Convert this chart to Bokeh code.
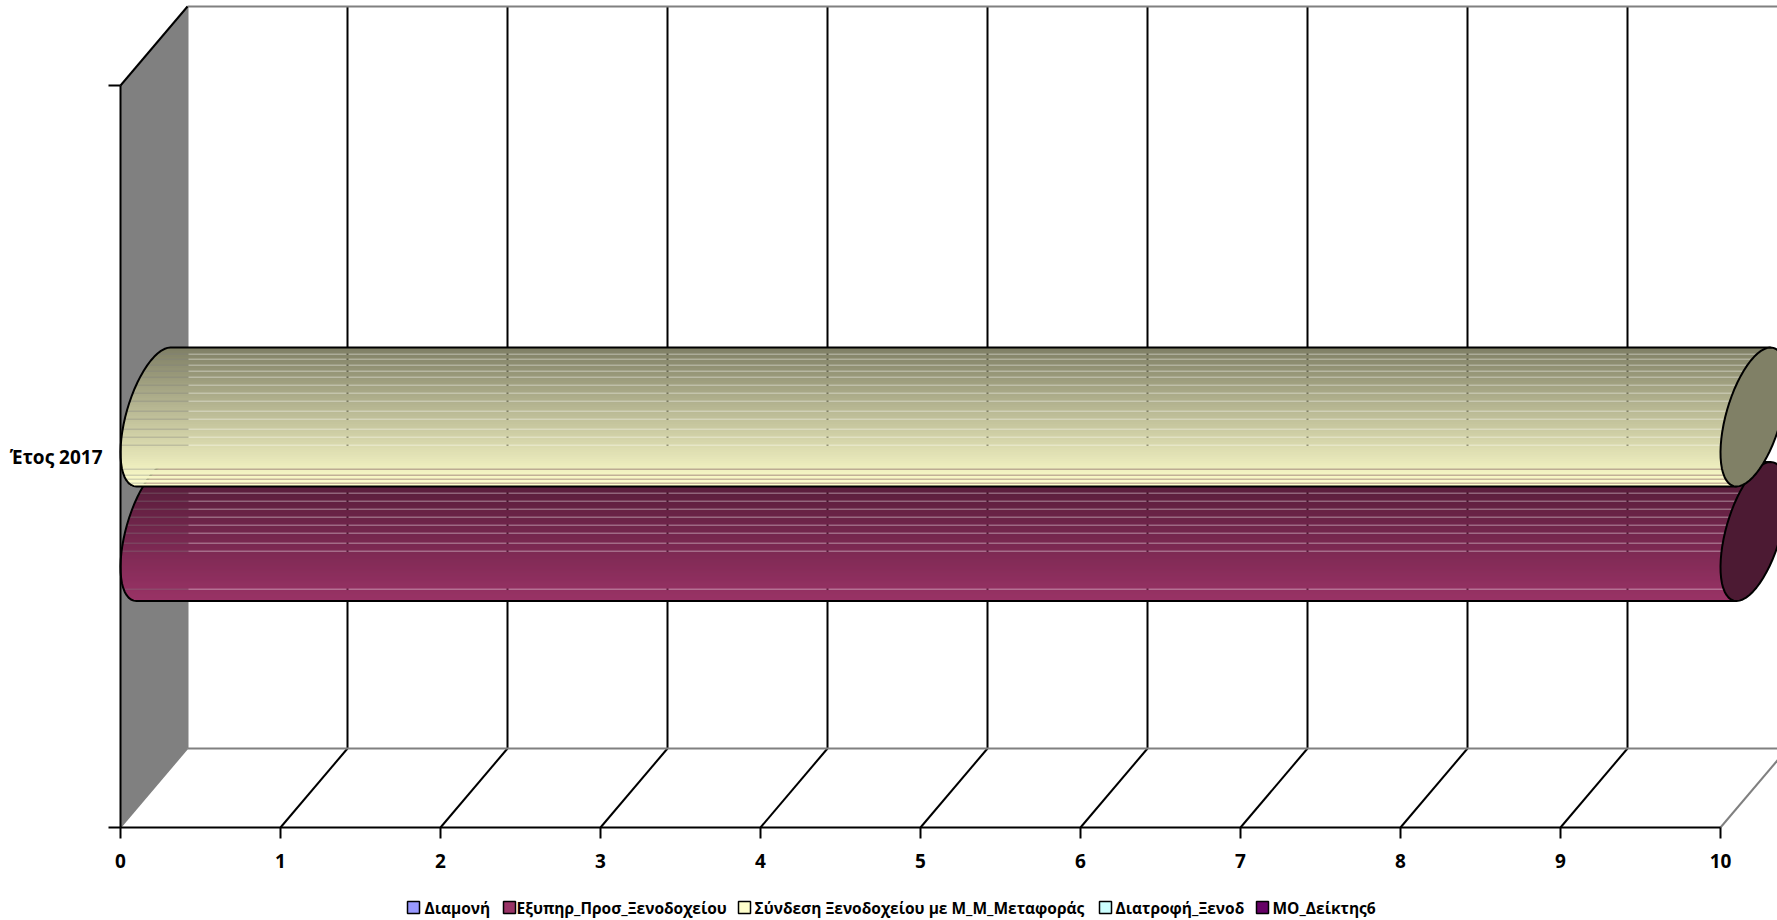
import math
from bokeh.plotting import figure
from bokeh.embed import file_html
from bokeh.resources import INLINE
from bokeh.models import Range1d, FixedTicker, LinearAxis, Label, BoxAnnotation

categories = ["Έτος 2017"]
series_names = ["Διαμονή", "Εξυπηρ_Προσ_Ξενοδοχείου", "Σύνδεση Ξενοδοχείου με Μ_Μ_Μεταφοράς", "Διατροφή_Ξενοδ", "ΜΟ_Δείκτης6"]
series_values = [0, 10, 10, 0, 0]
series_colors = ["#9999FF", "#993366", "#FFFFCC", "#CCFFFF", "#660066"]
x_ticks = [0, 1, 2, 3, 4, 5, 6, 7, 8, 9, 10]

W, H = 1777, 920
FONT = "Open Sans"
X0, PXU = 120, 160.0          # pixel of value 0, pixels per unit
Y0, PYU = 827, 742.0          # pixel of category-axis bottom, pixels per axis height
DX, DY = 67 / PXU, 79 / PYU   # 3-D depth


def yd(row):
    return (Y0 - row) / PYU


# The frame fills the whole figure: annotations and fixed axes are clipped to it.
p = figure(width=W, height=H, output_backend="svg", toolbar_location=None,
           x_range=Range1d(-X0 / PXU, (W - X0) / PXU),
           y_range=Range1d(yd(H), yd(0)),
           min_border_left=0, min_border_right=0, min_border_top=0, min_border_bottom=0,
           x_axis_location=None, y_axis_location=None,
           background_fill_color="white", border_fill_color="white",
           outline_line_color=None)
p.grid.visible = False

# walls
GREY = "#808080"
p.patch([0, DX, DX, 0], [0, DY, 1 + DY, 1], fill_color=GREY, line_color=None)
for v in x_ticks[1:-1]:
    p.line([v + DX, v + DX], [DY, 1 + DY], line_color="black", line_width=2)
    p.line([v, v + DX], [0, DY], line_color="black", line_width=2)
xmax = x_ticks[-1]
p.line([DX, xmax + DX], [DY, DY], line_color=GREY, line_width=2)
p.line([DX, xmax + DX], [1 + DY, 1 + DY], line_color=GREY, line_width=2)
p.line([DX, DX], [DY, 1 + DY], line_color=GREY, line_width=2)
p.line([0, DX], [0, DY], line_color=GREY, line_width=1.5)
p.line([0, DX], [1, 1 + DY], line_color="black", line_width=2)
p.line([xmax, xmax + DX], [0, DY], line_color=GREY, line_width=2)

# cylinders
A, B, PHI = 33.0, 69.5, math.radians(-31)
SKEW = A * math.sin(-PHI)
geom = {1: (531.0, [492, 500, 508, 516, 524, 532, 542, 550, 588]),
        2: (416.5, [353, 358, 364, 370, 376, 384, 392, 400, 410, 418, 428, 436, 444, 468, 474, 478, 482])}


def ellipse_left(dy):
    s = max(-1.0, min(1.0, dy / B))
    t1 = math.asin(s)
    t2 = math.pi - t1
    return min(A * math.cos(t1 + PHI), A * math.cos(t2 + PHI))


def shade(col, f):
    r, g, b = int(col[1:3], 16), int(col[3:5], 16), int(col[5:7], 16)
    return "#%02x%02x%02x" % (round(r * f), round(g * f), round(b * f))


for i in (1, 2):
    v = series_values[i]
    col = series_colors[i]
    cy, gaps = geom[i]
    rows = list(range(int(cy - B), int(cy + B)))
    solid = dict(left=[], right=[], top=[], bottom=[], color=[])
    gap = dict(left=[], right=[], top=[], bottom=[], color=[])
    for r in rows:
        dy = (cy - (r + 0.5))
        d = gap if r in gaps else solid
        d["left"].append((A + ellipse_left(dy)) / PXU)
        d["right"].append(v + (A + SKEW * dy / B) / PXU)
        d["top"].append(yd(r))
        # overlap into the next row so that no seam is left between solid rows
        d["bottom"].append(yd(r + 1) if (r + 1 in gaps or r == rows[-1] or r in gaps) else yd(r + 2))
        d["color"].append(shade(col, 0.5 + 0.5 * (r - rows[0]) / (len(rows) - 1)))
    p.quad(left=solid["left"], right=solid["right"], top=solid["top"], bottom=solid["bottom"],
           fill_color=solid["color"], line_color=None)
    p.quad(left=gap["left"], right=gap["right"], top=gap["top"], bottom=gap["bottom"],
           fill_color=gap["color"], fill_alpha=0.72, line_color=None)
    # left silhouette + long edges
    ts = [math.radians(a) for a in range(90, 271, 6)]
    ox = [(A + A * math.cos(t + PHI)) / PXU for t in ts]
    oy = [yd(cy - B * math.sin(t)) for t in ts]
    p.line([v + (A + SKEW) / PXU] + ox + [v + (A - SKEW) / PXU], [yd(cy - B)] + oy + [yd(cy + B)],
           line_color="black", line_width=2)
    # end cap
    ts = [math.radians(a) for a in range(0, 360, 6)]
    p.patch([v + (A + A * math.cos(t + PHI)) / PXU for t in ts],
            [yd(cy - B * math.sin(t)) for t in ts],
            fill_color=shade(col, 0.5), line_color="black", line_width=2)

# axes
xa = LinearAxis(ticker=FixedTicker(ticks=x_ticks), bounds=(0, xmax), fixed_location=0)
xa.axis_line_width = 2
xa.axis_line_color = "black"
xa.major_tick_line_width = 2
xa.major_tick_out = 11
xa.major_tick_in = 0
xa.minor_tick_line_color = None
xa.major_label_text_font = FONT
xa.major_label_text_font_style = "bold"
xa.major_label_text_font_size = "19px"
xa.major_label_text_color = "black"
xa.major_label_standoff = 15
p.add_layout(xa, "below")

ya = LinearAxis(ticker=FixedTicker(ticks=[0.5], minor_ticks=[0, 1]), bounds=(0, 1), fixed_location=0)
ya.major_label_overrides = {0.5: categories[0]}
ya.axis_line_width = 2
ya.axis_line_color = "black"
ya.major_tick_in = 0
ya.major_tick_out = 0
ya.minor_tick_in = 0
ya.minor_tick_out = 12
ya.minor_tick_line_width = 2
ya.minor_tick_line_color = "black"
ya.major_label_text_font = FONT
ya.major_label_text_font_style = "bold"
ya.major_label_text_font_size = "19px"
ya.major_label_text_color = "black"
ya.major_label_standoff = 6
p.add_layout(ya, "left")

# legend: swatch and text per series, placed in page pixels
leg_swatch_x = [407, 503, 738, 1099, 1256]
leg_text_x = [424, 516, 754, 1115, 1272]
LEG_Y = 907
for n, c, sx, tx in zip(series_names, series_colors, leg_swatch_x, leg_text_x):
    p.add_layout(BoxAnnotation(left=sx, right=sx + 12, top=LEG_Y - 6, bottom=LEG_Y + 6,
                               left_units="canvas", right_units="canvas", top_units="canvas", bottom_units="canvas",
                               fill_color=c, fill_alpha=1, line_color="black", line_width=1.5, line_alpha=1))
    p.add_layout(Label(x=tx, y=LEG_Y, x_units="canvas", y_units="canvas", text=n,
                       text_font=FONT, text_font_style="bold", text_font_size="15.5px",
                       text_color="black", text_baseline="middle", text_align="left"))

open("out.html", "w").write(file_html(p, INLINE))
